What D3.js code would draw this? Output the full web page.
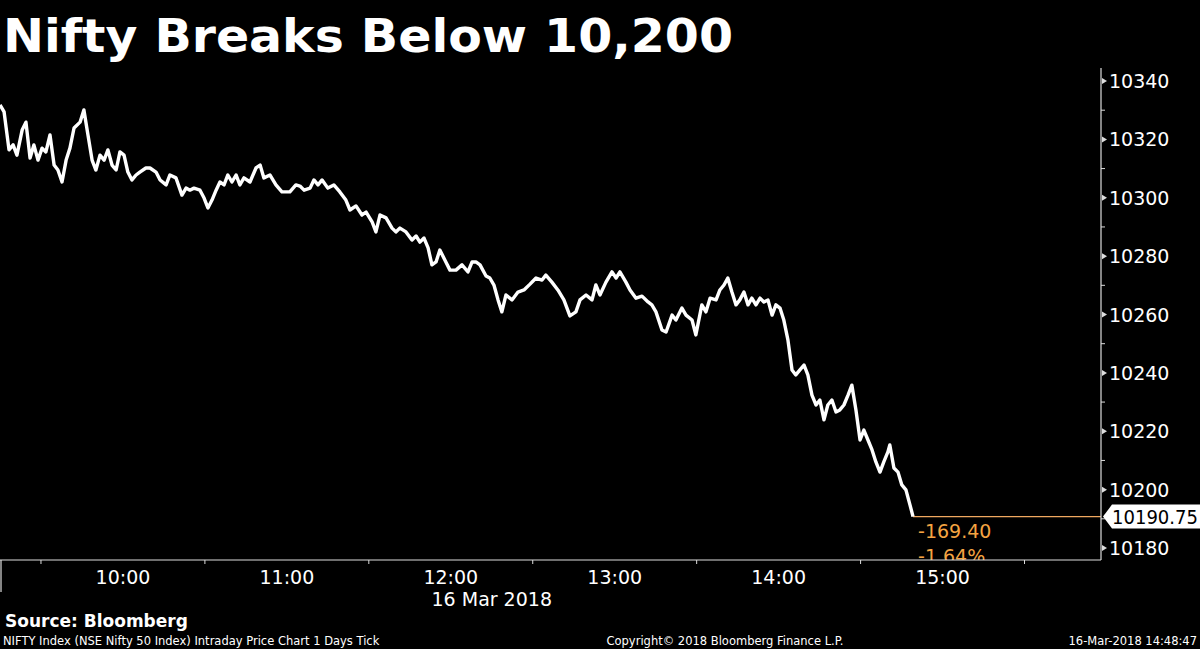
<!DOCTYPE html>
<html>
<head>
<meta charset="utf-8">
<script src="https://cdn.jsdelivr.net/npm/d3@7"></script>
<style>
body { margin: 0; background: #000; }
svg { display: block; }
text { font-family: "DejaVu Sans", sans-serif; }
</style>
</head>
<body>
<svg id="chart" width="1200" height="649"></svg>
<script>
// minutes after 09:15, 16 Mar 2018
var minutes = [0,1.5,3.3,4.8,6.2,8.1,9.5,11,12.4,13.9,15.4,16.8,18.3,19.8,21.2,22.7,24.2,25.6,27.1,29.3,30.7,32.2,33.7,35.1,36.6,38.1,39.5,41,42.5,43.9,45.4,46.8,48.3,49.8,51.2,53.4,54.9,57.1,58.6,60.8,62.2,64.4,66.6,68.1,69.5,71,73.2,74.7,76.1,77.6,79.1,80.5,82,83.4,84.9,86.4,87.8,89.3,91.5,93.7,95.2,96.6,98.8,101,103.2,106.1,108.3,109.8,111.3,113.5,114.9,116.4,117.9,120,122.2,124.4,126.6,128.1,130.3,132.5,134,136.2,137.6,139.1,141.3,143.5,144.9,146.4,148.6,150.8,152.3,153.7,155.2,156.7,158.1,159.6,161,163.2,164.7,166.9,169.1,171.3,172.8,174.2,175.7,177.9,179.3,180.8,182.3,183.7,185.2,187.4,189.6,191.8,194,196.2,198.4,199.8,202,204.2,206.4,208.6,210.8,212.3,214.5,216.7,218.1,219.6,221.8,224,225.5,226.9,229.1,230.6,232.8,235,237.2,238.6,240.1,242.3,243.8,246,247.4,249.6,251.1,253.3,254.7,256.9,258.4,259.9,262.1,263.5,265,266.4,267.9,269.4,270.8,272.3,273.8,275.2,276.7,278.2,279.6,281.1,282.6,284,285.5,286.9,288.4,289.9,291.3,292.8,294.3,295.7,297.2,298.7,300.1,301.6,303,304.5,306,307.4,308.9,310.4,311.8,313.3,314.8,316.2,317.7,319.2,320.6,322.1,323.5,325,325.7,327.2,328.7,330.1,331.6,333.1,334.2];
var prices = [10331.8,10329.4,10316.4,10318.1,10314.6,10323.2,10325.9,10313.6,10318.1,10312.9,10317,10315.7,10321.5,10311.2,10309.5,10305.4,10312.9,10317,10323.9,10325.9,10330.1,10321.5,10312.9,10309.5,10314.6,10312.9,10316.4,10311.2,10309.5,10315.7,10314.6,10308.8,10306.1,10307.8,10308.8,10310.2,10310.2,10308.8,10306.1,10304.4,10307.8,10306.8,10300.9,10303.3,10302.6,10303.3,10302.6,10299.9,10296.5,10299.2,10302.6,10305.4,10304.4,10307.8,10305.4,10307.8,10304.4,10306.8,10305.4,10310.2,10311.2,10306.8,10307.8,10304.4,10302,10302,10304.4,10304,10302.6,10303.3,10306.1,10304.4,10306.1,10303.3,10304.4,10302,10299.2,10295.8,10297.2,10294.1,10295.1,10291.7,10288.3,10294.1,10293.1,10289.6,10288.3,10289.6,10288.3,10285.5,10286.9,10284.8,10286.2,10282.8,10277,10278,10282.1,10278,10275.2,10275.2,10277,10274.6,10278,10278,10277,10273.2,10272.5,10270.1,10265,10260.9,10266.7,10265,10267.7,10268.4,10270.4,10272.5,10271.8,10273.5,10271.1,10268.4,10265,10259.5,10260.9,10265,10266.7,10265,10270.1,10266.7,10271.1,10274.6,10272.5,10274.6,10271.1,10268.4,10265.6,10266.3,10264.3,10263.3,10260.9,10254.7,10254,10259.8,10258.1,10262.2,10259.8,10258.1,10253,10263.3,10260.9,10265.6,10265,10268.4,10270.1,10272.5,10267.7,10263.3,10265,10267.7,10263.3,10265.6,10263.3,10265.6,10264.3,10265,10259.8,10263.3,10262.2,10258.1,10251.3,10241,10239.3,10241,10242.7,10239.3,10232.4,10229,10230.7,10223.9,10229,10230.7,10226.6,10227.3,10229,10232.4,10235.8,10227.3,10217,10220.4,10217,10213.6,10209.5,10206,10209.5,10212.9,10215.3,10207.4,10206,10201.6,10199.9,10194.7,10190.75];

var yTicks = [10180,10200,10220,10240,10260,10280,10300,10320,10340];
var hourLabels = ["10:00","11:00","12:00","13:00","14:00","15:00"];
var lastPrice = 10190.75;
var netChange = "-169.40";
var pctChange = "-1.64%";

var PLOT_RIGHT = 1101;
var PLOT_BOTTOM = 560;
var PLOT_TOP = 68;

var svg = d3.select("#chart");
svg.append("rect").attr("width",1200).attr("height",649).attr("fill","#000");

function at(h, m) { return new Date(2018, 2, 16, h, m); }
var series = minutes.map(function(m, i) {
	return { t: new Date(at(9,15).getTime() + m*60000), v: prices[i] };
});

var x = d3.scaleTime().domain([at(9,15), at(15,58)]).range([0, PLOT_RIGHT]);
var y = d3.scaleLinear().domain([10180, 10340]).range([548, 81]);

//title
svg.append("text")
	.attr("x", 3).attr("y", 52)
	.attr("fill", "#fff")
	.attr("font-size", 46).attr("font-weight", "bold")
	.attr("textLength", 730).attr("lengthAdjust", "spacingAndGlyphs")
	.text("Nifty Breaks Below 10,200");

svg.append("clipPath").attr("id","plotClip")
	.append("rect").attr("x",0).attr("y",PLOT_TOP).attr("width",PLOT_RIGHT).attr("height",PLOT_BOTTOM-PLOT_TOP);

var plot = svg.append("g").attr("clip-path","url(#plotClip)");

//last price line and change labels
var endX = x(series[series.length-1].t);
plot.append("line")
	.attr("x1", endX).attr("x2", PLOT_RIGHT)
	.attr("y1", y(lastPrice)).attr("y2", y(lastPrice))
	.attr("stroke", "#f0a860").attr("stroke-width", 1.2);

plot.append("text")
	.attr("x", endX + 5).attr("y", y(lastPrice) + 21)
	.attr("fill", "#f5a442").attr("font-size", 19)
	.text(netChange);
plot.append("text")
	.attr("x", endX + 5).attr("y", y(lastPrice) + 46)
	.attr("fill", "#f5a442").attr("font-size", 19)
	.text(pctChange);

plot.append("path")
	.datum(series)
	.attr("fill", "none")
	.attr("stroke", "#fff")
	.attr("stroke-width", 3.4)
	.attr("stroke-linejoin", "round")
	.attr("d", d3.line().x(function(d){return x(d.t);}).y(function(d){return y(d.v);}));

//axes frame
svg.append("line").attr("x1",PLOT_RIGHT).attr("x2",PLOT_RIGHT).attr("y1",PLOT_TOP).attr("y2",PLOT_BOTTOM)
	.attr("stroke","#ddd").attr("stroke-width",1.2);
svg.append("line").attr("x1",0).attr("x2",PLOT_RIGHT).attr("y1",PLOT_BOTTOM).attr("y2",PLOT_BOTTOM)
	.attr("stroke","#ddd").attr("stroke-width",1.2);
svg.append("line").attr("x1",1).attr("x2",1).attr("y1",PLOT_BOTTOM).attr("y2",592)
	.attr("stroke","#ddd").attr("stroke-width",1.2);

//right axis
var yAxis = svg.append("g");
var minor = d3.range(10190, 10340, 20);
yAxis.selectAll(".minor").data(minor).enter().append("line")
	.attr("x1", PLOT_RIGHT).attr("x2", PLOT_RIGHT+4)
	.attr("y1", function(d){return y(d);}).attr("y2", function(d){return y(d);})
	.attr("stroke","#ddd");
yAxis.selectAll(".tick").data(yTicks).enter().append("g")
	.attr("transform", function(d){return "translate(" + PLOT_RIGHT + "," + y(d) + ")";})
	.each(function(d) {
		d3.select(this).append("path").attr("d","M1,-3L6,0L1,3Z").attr("fill","#ddd");
		d3.select(this).append("text")
			.attr("x", 8).attr("y", 7)
			.attr("fill","#fff").attr("font-size", 19)
			.text(d);
	});

//last value tag
var tag = svg.append("g").attr("transform","translate(" + (PLOT_RIGHT+2) + "," + y(lastPrice) + ")");
tag.append("path").attr("d","M0,0L9,-12L97,-12L97,12L9,12Z").attr("fill","#fff");
tag.append("text").attr("x", 9).attr("y", 7).attr("fill","#000").attr("font-size",19)
	.attr("textLength", 86).attr("lengthAdjust", "spacingAndGlyphs")
	.text(lastPrice.toFixed(2));

//bottom axis
var halfHours = d3.timeMinute.every(30).range(at(9,30), at(16,0)).filter(function(d){return d.getMinutes() === 30;});
svg.selectAll(".xtick").data(halfHours).enter().append("line")
	.attr("x1", function(d){return x(d);}).attr("x2", function(d){return x(d);})
	.attr("y1", PLOT_BOTTOM).attr("y2", PLOT_BOTTOM+4)
	.attr("stroke","#ddd");
svg.selectAll(".xlabel").data(hourLabels).enter().append("text")
	.attr("x", function(d){ var p = d.split(":"); return x(at(+p[0], +p[1])); })
	.attr("y", 584)
	.attr("text-anchor","middle").attr("fill","#fff").attr("font-size",19)
	.text(function(d){return d;});
svg.append("text").attr("x", x(at(12,15))).attr("y", 606)
	.attr("text-anchor","middle").attr("fill","#fff").attr("font-size",19)
	.text("16 Mar 2018");

//footer
svg.append("text").attr("x",5).attr("y",627).attr("fill","#fff").attr("font-size",17).attr("font-weight","bold")
	.text("Source: Bloomberg");
svg.append("text").attr("x",3).attr("y",645).attr("fill","#fff").attr("font-size",11.5)
	.text("NIFTY Index (NSE Nifty 50 Index) Intraday Price Chart 1 Days  Tick");
svg.append("text").attr("x",725).attr("y",645).attr("text-anchor","middle").attr("fill","#fff").attr("font-size",11.5)
	.text("Copyright\u00a9 2018 Bloomberg Finance L.P.");
svg.append("text").attr("x",1197).attr("y",645).attr("text-anchor","end").attr("fill","#fff").attr("font-size",11.5)
	.text("16-Mar-2018 14:48:47");
</script>
</body>
</html>
